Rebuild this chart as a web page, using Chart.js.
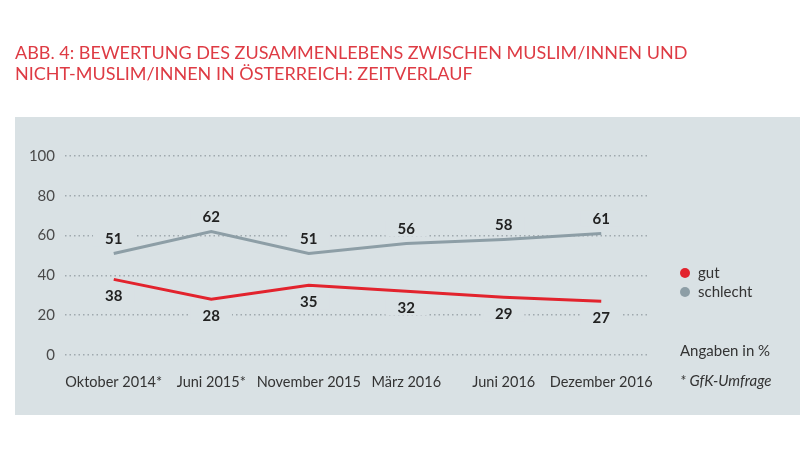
<!DOCTYPE html>
<html lang="de">
<head>
  <meta charset="UTF-8">
  <title>Bewertung des Zusammenlebens</title>
  <script src="https://cdn.jsdelivr.net/npm/chart.js"></script>
  <style>
    html, body { margin: 0; padding: 0; background: #fff; }
    canvas { display: block; }
  </style>
</head>
<body>
  <canvas id="chart" width="800" height="452"></canvas>

  <script>
    // Daten aus der Grafik
    const titleLines = [
      'ABB. 4: BEWERTUNG DES ZUSAMMENLEBENS ZWISCHEN MUSLIM/INNEN UND',
      'NICHT-MUSLIM/INNEN IN ÖSTERREICH: ZEITVERLAUF'
    ];
    const labels = ['Oktober 2014*', 'Juni 2015*', 'November 2015', 'März 2016', 'Juni 2016', 'Dezember 2016'];
    const gut = [38, 28, 35, 32, 29, 27];
    const schlecht = [51, 62, 51, 56, 58, 61];
    const yTicks = [0, 20, 40, 60, 80, 100];

    const FONT = 'Lato, "Open Sans", sans-serif';
    const PANEL = '#d9e1e4';
    const RED = '#e2232d';
    const GREY = '#8d9ea6';

    // Hintergrund, Titel, Legende, Fussnoten
    const decor = {
      id: 'decor',
      beforeDraw(chart) {
        const c = chart.ctx;
        c.save();
        c.fillStyle = '#fff';
        c.fillRect(0, 0, chart.width, chart.height);
        c.fillStyle = PANEL;
        c.fillRect(15, 117, chart.width - 15, 298);

        c.fillStyle = '#de3b44';
        c.font = '18px ' + FONT;
        c.textBaseline = 'middle';
        titleLines.forEach((t, i) => c.fillText(t, 15, 53 + i * 21));
        c.restore();
      },
      afterDraw(chart) {
        const c = chart.ctx;
        c.save();
        c.textBaseline = 'middle';
        c.font = '15px ' + FONT;
        [['gut', RED], ['schlecht', GREY]].forEach(([name, col], i) => {
          const y = 273 + i * 19;
          c.fillStyle = col;
          c.beginPath();
          c.arc(685, y, 5, 0, Math.PI * 2);
          c.fill();
          c.fillStyle = '#333';
          c.fillText(name, 698, y);
        });
        c.fillStyle = '#333';
        c.fillText('Angaben in %', 680, 351);
        c.font = 'italic 15px ' + FONT;
        c.fillText('* GfK-Umfrage', 680, 381);
        c.restore();
      }
    };

    // Wertebeschriftungen mit Hintergrund (unterbricht die Gitterlinien)
    const valueLabels = {
      id: 'valueLabels',
      afterDatasetsDraw(chart) {
        const c = chart.ctx;
        c.save();
        c.font = 'bold 15px ' + FONT;
        c.textAlign = 'center';
        c.textBaseline = 'middle';
        chart.data.datasets.forEach((ds, di) => {
          const meta = chart.getDatasetMeta(di);
          const dy = di === 0 ? 16 : -15;
          meta.data.forEach((pt, i) => {
            const txt = String(ds.data[i]);
            const w = c.measureText(txt).width;
            const y = pt.y + dy;
            c.fillStyle = PANEL;
            c.fillRect(pt.x - w / 2 - 12, y - 8, w + 24, 16);
            c.fillStyle = '#222';
            c.fillText(txt, pt.x, y + 1);
          });
        });
        c.restore();
      }
    };

    new Chart(document.getElementById('chart'), {
      type: 'line',
      data: {
        labels: labels,
        datasets: [
          { label: 'gut', data: gut, borderColor: RED, borderWidth: 3, pointRadius: 0, tension: 0 },
          { label: 'schlecht', data: schlecht, borderColor: GREY, borderWidth: 3, pointRadius: 0, tension: 0 }
        ]
      },
      options: {
        responsive: false,
        animation: false,
        layout: { padding: { top: 156, right: 150, left: 0, bottom: 0 } },
        plugins: {
          legend: { display: false },
          title: { display: false },
          tooltip: { enabled: false }
        },
        scales: {
          x: {
            offset: true,
            grid: { display: false, drawTicks: false },
            border: { display: false },
            ticks: { color: '#333', font: { family: FONT, size: 14.5 }, padding: 19, maxRotation: 0, autoSkip: false },
            afterFit: s => { s.height = 97; }
          },
          y: {
            min: 0,
            max: 100,
            afterBuildTicks: s => { s.ticks = yTicks.map(v => ({ value: v })); },
            grid: { color: '#a0a9ae', lineWidth: 1.5, drawTicks: false },
            border: { display: false, dash: [1.5, 3] },
            ticks: { color: '#4a4a4a', font: { family: FONT, size: 15 }, padding: 10 },
            afterFit: s => { s.width = 65; }
          }
        }
      },
      plugins: [decor, valueLabels]
    });
  </script>
</body>
</html>
